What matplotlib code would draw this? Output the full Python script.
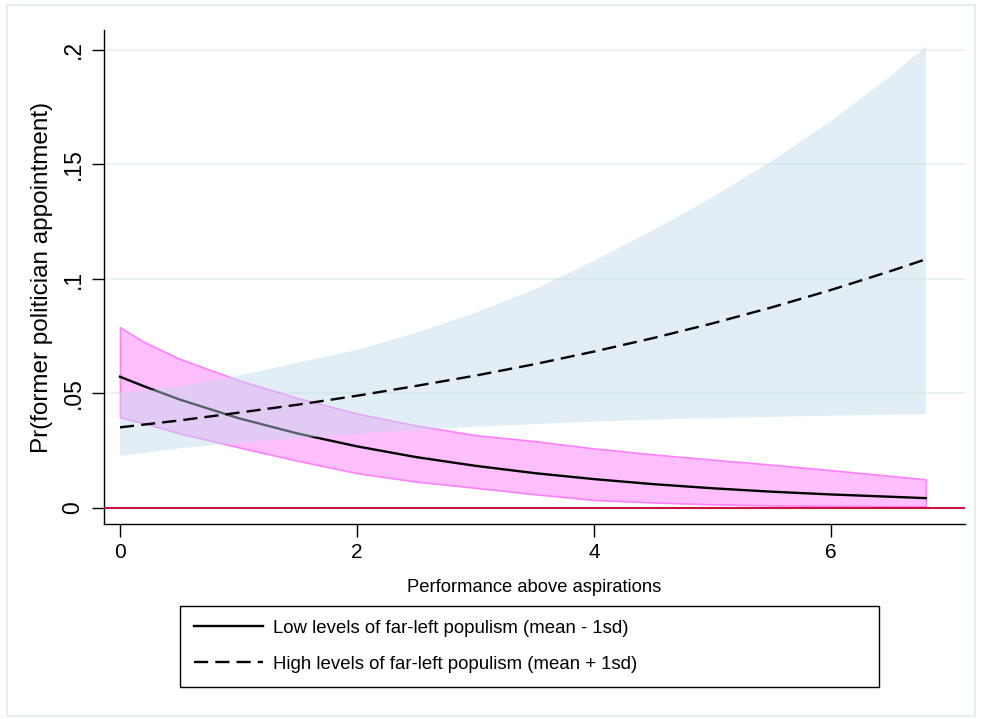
import numpy as np
import matplotlib.pyplot as plt
from matplotlib.patches import Rectangle

plt.rcParams['font.family'] = ['Liberation Sans', 'DejaVu Sans']

# performance above aspirations
x = [0, 0.2, 0.5, 1, 1.5, 2, 2.5, 3, 3.5, 4, 4.5, 5, 5.5, 6, 6.5, 6.8]

# low far-left populism (mean - 1sd)
low = [0.0573, 0.0532, 0.0474, 0.0392, 0.0325, 0.0269, 0.0222, 0.0184,
       0.0152, 0.0126, 0.0104, 0.0086, 0.0071, 0.0059, 0.0049, 0.0043]
low_hi = [0.0789, 0.0726, 0.0652, 0.0558, 0.0480, 0.0412, 0.0360, 0.0318,
          0.0292, 0.0260, 0.0234, 0.0211, 0.0189, 0.0165, 0.0140, 0.0125]
low_lo = [0.0396, 0.0370, 0.0326, 0.0265, 0.0206, 0.0152, 0.0115, 0.0088,
          0.0060, 0.0035, 0.0024, 0.0016, 0.0011, 0.0009, 0.0008, 0.0008]

# high far-left populism (mean + 1sd)
high = [0.0352, 0.0364, 0.0382, 0.0416, 0.0451, 0.0490, 0.0533, 0.0578,
        0.0628, 0.0683, 0.0742, 0.0806, 0.0876, 0.0952, 0.1034, 0.1086]
high_hi = [0.0501, 0.0512, 0.0530, 0.0578, 0.0635, 0.0690, 0.0765, 0.0853,
           0.0955, 0.1079, 0.1213, 0.1357, 0.1515, 0.1690, 0.1885, 0.2015]
high_lo = [0.0227, 0.0240, 0.0260, 0.0285, 0.0305, 0.0325, 0.0342, 0.0355,
           0.0366, 0.0377, 0.0386, 0.0392, 0.0398, 0.0403, 0.0407, 0.0410]

yticks = [0, 0.05, 0.1, 0.15, 0.2]
ylabels = ['0', '.05', '.1', '.15', '.2']
xticks = [0, 2, 4, 6]

fig = plt.figure(figsize=(9.81, 7.19), dpi=100)
# outer frame
fig.patches.append(Rectangle((7/981, 3/719), 968/981, 711/719, transform=fig.transFigure,
                             fill=False, edgecolor='#e6eef0', linewidth=1.5))
ax = fig.add_axes([104/981, 195/719, 861/981, 494/719])

for yt in yticks[1:]:
    ax.axhline(yt, color='#eaf2f3', linewidth=1.5, zorder=0)

ax.fill_between(x, low_lo, low_hi, facecolor='#ffbfff', edgecolor='#ff80ff',
                linewidth=1.2, zorder=1)
ax.plot(x, low, color='black', linewidth=1.7, zorder=2,
        label='Low levels of far-left populism (mean - 1sd)')
ax.fill_between(x, high_lo, high_hi, facecolor=(190/255, 219/255, 233/255), alpha=0.45,
                edgecolor='none', zorder=3)
ax.plot(x, high, color='black', linewidth=1.7, linestyle=(0, (6, 3)), zorder=4,
        label='High levels of far-left populism (mean + 1sd)')
ax.axhline(0, color='#c8143c', linewidth=1.5, zorder=5)

ax.set_xlim(-0.135, 7.13)
ax.set_ylim(-0.007, 0.2087)
ax.set_yticks(yticks)
ax.set_yticklabels(ylabels, rotation=90, va='center')
ax.set_xticks(xticks)
ax.tick_params(axis='both', direction='out', length=9, width=1)
ax.tick_params(axis='y', labelsize=16.5, pad=5)
ax.tick_params(axis='x', labelsize=15, pad=5)
for s in ['top', 'right']:
    ax.spines[s].set_visible(False)
ax.spines['left'].set_linewidth(1)
ax.spines['bottom'].set_linewidth(1)

ax.set_xlabel('Performance above aspirations', fontsize=13.2, labelpad=12)
ax.set_ylabel('Pr(former politician appointment)', fontsize=17.5, labelpad=6)

leg = fig.legend(loc='upper left', bbox_to_anchor=(180/981, 1 - 685/719, 699/981, 79/719),
                 mode='expand', fancybox=False, edgecolor='black', fontsize=13.4,
                 handlelength=3.7, handletextpad=0.55, borderpad=0.75, labelspacing=1.0,
                 borderaxespad=0, framealpha=1)
leg.get_frame().set_linewidth(1)

fig.savefig('out.png', dpi=100)
